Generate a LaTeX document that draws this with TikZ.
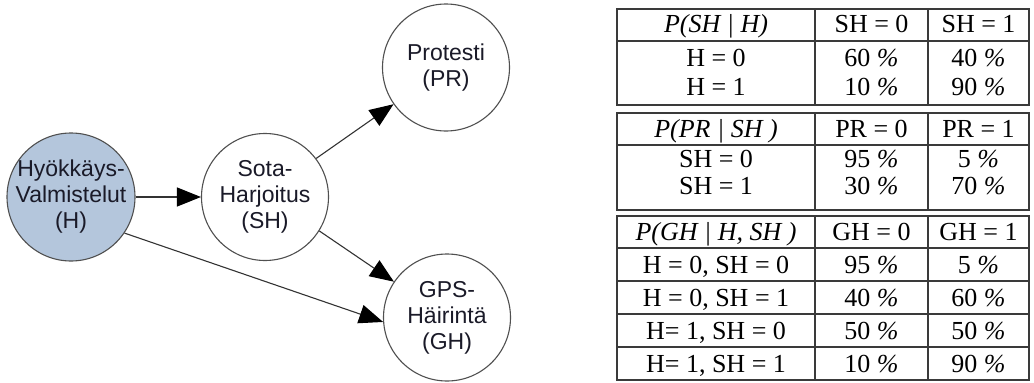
\documentclass[tikz,border=0pt]{standalone}
\usepackage{fontspec}
\setmainfont{Liberation Serif}
\setsansfont{Liberation Sans}
\usetikzlibrary{arrows.meta}
\definecolor{hfill}{HTML}{B4C6DC}
\definecolor{ring}{HTML}{505050}
\definecolor{nodetext}{HTML}{1A1A28}
\definecolor{linkcol}{HTML}{333333}
\definecolor{tabline}{HTML}{3A3A3A}
\newcommand{\pct}{\textit{\%}}
\begin{document}
\begin{tikzpicture}[x=1pt,y=-1pt,
  bnode/.style={circle, draw=ring, line width=1.1pt, fill=white,
    minimum size=127pt, inner sep=0pt},
  ntext/.style={align=center, inner sep=0pt, text=nodetext,
    font=\sffamily\fontsize{23}{26}\selectfont},
  link/.style={draw=linkcol, line width=1.1pt,
    -{Triangle[length=24pt,width=19pt,color=black]}},
  rule/.style={draw=tabline, line width=1.4pt},
  cell/.style={anchor=base, inner sep=0pt,
    font=\fontsize{26}{30}\selectfont},
]
\useasboundingbox (0,0) rectangle (1034,383);

% Bayesian network
\node[bnode, fill=hfill, minimum size=128pt] (H) at (71,197) {};
\node[ntext] (Ht) at (H) {Hyökkäys-\\Valmistelut\\(H)};
\node[bnode] (SH) at (265,197) {};
\node[ntext] (SHt) at (SH) {Sota-\\Harjoitus\\(SH)};
\node[bnode] (PR) at (446,67.5) {};
\node[ntext] (PRt) at (PR) {Protesti\\(PR)};
\node[bnode] (GH) at (447,317.5) {};
\node[ntext] (GHt) at (GH) {GPS-\\Häirintä\\(GH)};

\draw[link] (H.east) -- (SH.west);
\draw[link] (SH.37) -- (PR.215);
\draw[link] (SH.-32) -- (GH.146);
\draw[link] (H.-34) -- (GH.184);

% Conditional probability tables
\def\cA{716}\def\cB{871.5}\def\cC{978.5}

% P(SH | H)
\draw[rule] (617,9) rectangle (1029,105);
\draw[rule] (617,41) -- (1029,41);
\draw[rule] (815,9) -- (815,105) (928,9) -- (928,105);
\node[cell] (t1h1) at (\cA,32) {\textit{P(SH | H)}};
\node[cell] (t1h2) at (\cB,32) {SH = 0};
\node[cell] (t1h3) at (\cC,32) {SH = 1};
\node[cell] (t1a1) at (\cA,66) {H = 0};
\node[cell] (t1a2) at (\cB,66) {60 \pct};
\node[cell] (t1a3) at (\cC,66) {40 \pct};
\node[cell] (t1b1) at (\cA,95) {H = 1};
\node[cell] (t1b2) at (\cB,95) {10 \pct};
\node[cell] (t1b3) at (\cC,95) {90 \pct};

% P(PR | SH)
\draw[rule] (617,113) rectangle (1029,210);
\draw[rule] (617,145) -- (1029,145);
\draw[rule] (815,113) -- (815,210) (928,113) -- (928,210);
\node[cell] (t2h1) at (\cA,137) {\textit{P(PR | SH )}};
\node[cell] (t2h2) at (\cB,137) {PR = 0};
\node[cell] (t2h3) at (\cC,137) {PR = 1};
\node[cell] (t2a1) at (\cA,167) {SH = 0};
\node[cell] (t2a2) at (\cB,167) {95 \pct};
\node[cell] (t2a3) at (\cC,167) {5 \pct};
\node[cell] (t2b1) at (\cA,194) {SH = 1};
\node[cell] (t2b2) at (\cB,194) {30 \pct};
\node[cell] (t2b3) at (\cC,194) {70 \pct};

% P(GH | H, SH)
\draw[rule] (617,216) rectangle (1029,380);
\draw[rule] (617,248) -- (1029,248) (617,281) -- (1029,281)
  (617,314) -- (1029,314) (617,347) -- (1029,347);
\draw[rule] (815,216) -- (815,380) (928,216) -- (928,380);
\node[cell] (t3h1) at (\cA,240) {\textit{P(GH | H, SH )}};
\node[cell] (t3h2) at (\cB,240) {GH = 0};
\node[cell] (t3h3) at (\cC,240) {GH = 1};
\node[cell] (t3a1) at (\cA,273) {H = 0, SH = 0};
\node[cell] (t3a2) at (\cB,273) {95 \pct};
\node[cell] (t3a3) at (\cC,273) {5 \pct};
\node[cell] (t3b1) at (\cA,306) {H = 0, SH = 1};
\node[cell] (t3b2) at (\cB,306) {40 \pct};
\node[cell] (t3b3) at (\cC,306) {60 \pct};
\node[cell] (t3c1) at (\cA,339) {H= 1, SH = 0};
\node[cell] (t3c2) at (\cB,339) {50 \pct};
\node[cell] (t3c3) at (\cC,339) {50 \pct};
\node[cell] (t3d1) at (\cA,372) {H= 1, SH = 1};
\node[cell] (t3d2) at (\cB,372) {10 \pct};
\node[cell] (t3d3) at (\cC,372) {90 \pct};
\end{tikzpicture}
\end{document}
